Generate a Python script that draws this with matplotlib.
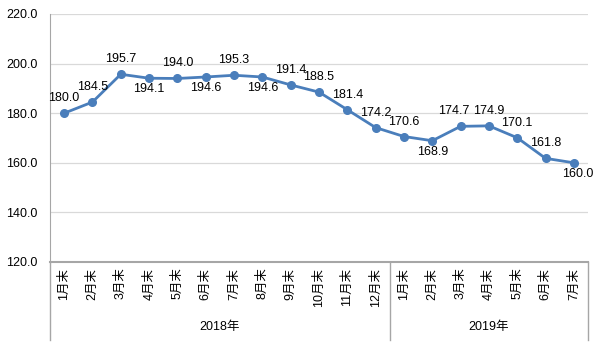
import matplotlib
matplotlib.use("Agg")
import matplotlib.pyplot as plt
from matplotlib.transforms import blended_transform_factory

plt.rcParams['font.family'] = ['Liberation Sans', 'Noto Sans CJK SC', 'DejaVu Sans']

months = ["1月末", "2月末", "3月末", "4月末", "5月末", "6月末", "7月末", "8月末", "9月末",
          "10月末", "11月末", "12月末", "1月末", "2月末", "3月末", "4月末", "5月末", "6月末", "7月末"]
values = [180.0, 184.5, 195.7, 194.1, 194.0, 194.6, 195.3, 194.6, 191.4, 188.5,
          181.4, 174.2, 170.6, 168.9, 174.7, 174.9, 170.1, 161.8, 160.0]
label_pos = ["a", "a", "a", "b", "a", "b", "a", "b", "a", "a",
             "a", "a", "a", "b", "a", "a", "a", "a", "b"]
years = ["2018年", "2019年"]
year_counts = [12, 7]
yticks = [120, 140, 160, 180, 200, 220]

fig = plt.figure(figsize=(6.0, 3.45), dpi=100)
ax = fig.add_axes([50/600, 1 - 262/345, 538/600, 248/345])

x = list(range(len(values)))
color = "#4A7EBB"
ax.plot(x, values, color=color, lw=2, marker="o", ms=5.5, zorder=3)

for xi, v, p in zip(x, values, label_pos):
    dy = 10.8 if p == "a" else -7.9
    dx = 0
    if xi == len(values) - 1:
        dx = 3
    if xi == 14:
        dx = -5
    ax.annotate(f"{v:.1f}", (xi, v), xytext=(dx, dy), textcoords="offset points",
                ha="center", va="center", fontsize=9, color="#000000", zorder=4)

ax.set_xlim(-0.5, len(values) - 0.5)
ax.set_ylim(120, 220)
ax.set_yticks(yticks)
ax.set_yticklabels([f"{t:.1f}" for t in yticks], fontsize=9)
ax.yaxis.grid(True, color="#D9D9D9", lw=0.9)
ax.set_axisbelow(True)
ax.tick_params(axis="y", length=0, pad=9)
ax.set_xticks(x)
ax.set_xticklabels(months, rotation=90, fontsize=9)
ax.tick_params(axis="x", length=0, pad=4)

for s in ["top", "right"]:
    ax.spines[s].set_visible(False)
ax.spines["left"].set_color("#A6A6A6")
ax.spines["bottom"].set_color("#A6A6A6")
ax.spines["bottom"].set_linewidth(1.5)

trans = blended_transform_factory(ax.transData, ax.transAxes)
bounds = [-0.5]
for c in year_counts:
    bounds.append(bounds[-1] + c)
for b in bounds:
    ax.plot([b, b], [0, -0.315], transform=trans, color="#A6A6A6", lw=1, clip_on=False)
for i, yname in enumerate(years):
    cx = (bounds[i] + bounds[i + 1]) / 2
    ax.text(cx, -0.262, yname, transform=trans, ha="center", va="center", fontsize=9)

fig.savefig("out.png", dpi=100)
